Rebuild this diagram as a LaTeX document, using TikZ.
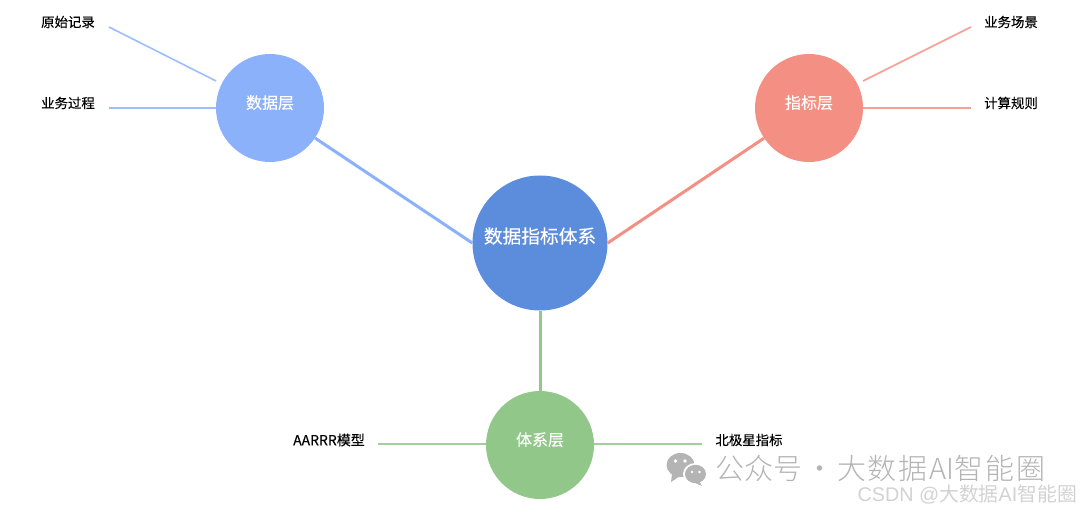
\documentclass[tikz,border=0pt]{standalone}
\usepackage{fontspec}
\setmainfont[FakeBold=0.2]{Noto Sans CJK SC}
\newfontfamily\csdnfont{Liberation Sans}
\newfontfamily\cjkfont{Noto Sans CJK SC}
\newfontfamily\cjklight{Noto Sans CJK SC Light}
\definecolor{datac}{HTML}{8CB1FB}
\definecolor{corec}{HTML}{5B8DDC}
\definecolor{idxc}{HTML}{F38F83}
\definecolor{sysc}{HTML}{92C78A}
\definecolor{markc}{HTML}{B4B4B4}
\definecolor{csdnc}{HTML}{D2D2D2}
\tikzset{
  hub/.style={circle,inner sep=0pt,minimum size=108pt,text=white,font=\fontsize{16}{16}\selectfont,text height=14pt,text depth=12.6pt},
  corehub/.style={circle,inner sep=0pt,minimum size=135pt,text=white,font=\fontsize{18.7}{19}\selectfont,text height=14pt,text depth=13.6pt,fill=corec},
  leaf/.style={inner sep=0pt,text=black,font=\fontsize{13.4}{14}\selectfont},
  trunk/.style={line width=3pt},
  twig/.style={line width=1.6pt},
}
\begin{document}
\begin{tikzpicture}[x=1pt,y=-1pt]
\useasboundingbox (0,0) rectangle (1080,513);
\node[corehub] (core) at (540,243) {数据指标体系};
\node[hub,fill=datac] (data) at (270,108) {数据层};
\node[hub,fill=idxc] (idx) at (809,108) {指标层};
\node[hub,fill=sysc] (sys) at (540,445) {体系层};
\node[leaf] (l1) at (68,22) {原始记录};
\node[leaf] (l2) at (68,103) {业务过程};
\node[leaf] (r1) at (1011,22) {业务场景};
\node[leaf] (r2) at (1011,103) {计算规则};
\node[leaf,font=\fontsize{14}{14}\selectfont] (b1) at (329,440) {AARRR模型};
\node[leaf] (b2) at (749,440) {北极星指标};
\coordinate (l1a) at (109,27);
\coordinate (l1b) at (216,81);
\coordinate (l2a) at (109,108);
\coordinate (r1a) at (971,27);
\coordinate (r1b) at (863,81);
\coordinate (r2a) at (971,108);
\coordinate (b1a) at (378,444);
\coordinate (b1b) at (486,444);
\coordinate (b2a) at (702,444);
\coordinate (b2b) at (594,444);
\draw[trunk,datac] (data) -- (core.west);
\draw[trunk,idxc] (idx) -- (core.east);
\draw[trunk,sysc] (core) -- (sys);
\draw[twig,datac!85!white] (l1a) -- (l1b);
\draw[twig,datac!85!white] (l2a) -- (data.west);
\draw[twig,idxc!85!white] (r1a) -- (r1b);
\draw[twig,idxc!85!white] (r2a) -- (idx.east);
\draw[twig,sysc!85!white] (b1a) -- (b1b);
\draw[twig,sysc!85!white] (b2a) -- (b2b);
% watermark icon
\fill[markc] (680.5,465) ellipse (14pt and 12pt);
\fill[markc] (672,474) -- (671,482) -- (680,476) -- cycle;
\fill[white] (695.5,474) ellipse (12.5pt and 11pt);
\fill[markc] (695.5,474) ellipse (10.5pt and 9.2pt);
\fill[markc] (699,481) -- (702,486) -- (693,482) -- cycle;
\fill[white] (675.5,461) circle (1.9pt) (685,461) circle (1.9pt) (692,472) circle (1.4pt) (699.5,472) circle (1.4pt);
\node[inner sep=0pt,text=markc,font=\fontsize{29}{30}\cjklight,anchor=west] (wm) at (715,468.5) {公众号\hspace{3pt}·\hspace{3pt}大\hspace{1.5pt}数\hspace{1.5pt}据\hspace{2pt}AI智\hspace{2pt}能\hspace{2pt}圈};
\node[inner sep=0pt,text=csdnc,font=\fontsize{19.8}{21}\csdnfont,anchor=east] (csdn) at (1077,495) {CSDN @{\cjkfont 大数据}AI{\cjkfont 智能圈}};
\end{tikzpicture}
\end{document}
